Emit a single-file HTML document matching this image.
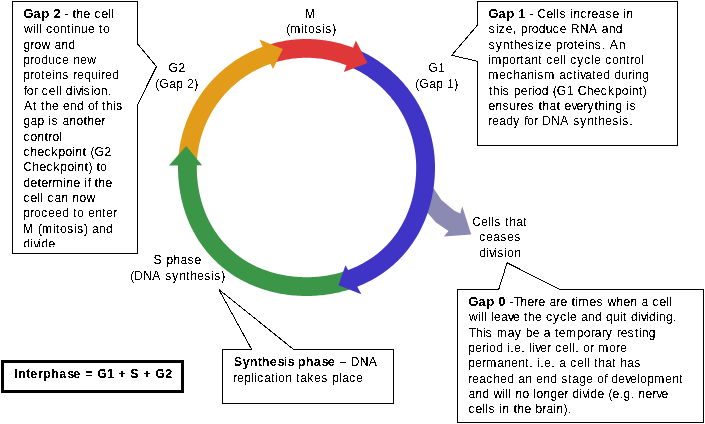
<!DOCTYPE html>
<html>
<head>
<meta charset="utf-8">
<title>Cell cycle</title>
<style>
html,body{margin:0;padding:0;background:#fff;}
body{width:705px;height:424px;overflow:hidden;}
svg{display:block;}
text{font-family:"Liberation Sans",sans-serif;font-size:13.0px;fill:#000;white-space:pre;font-kerning:none;}
.b{font-weight:bold;font-size:13.5px;}
</style>
</head>
<body>
<svg width="705" height="424" viewBox="0 0 705 424">
<defs>
<filter id="binb" x="0" y="0" width="705" height="424" filterUnits="userSpaceOnUse" color-interpolation-filters="sRGB"><feComponentTransfer><feFuncA type="discrete" tableValues="0 0 0 0 0 0 0 0 0 1 1 1 1 1 1 1 1 1 1 1"/></feComponentTransfer></filter>
<filter id="bin" x="0" y="0" width="705" height="424" filterUnits="userSpaceOnUse" color-interpolation-filters="sRGB"><feComponentTransfer><feFuncA type="discrete" tableValues="0 0 0 0 0 0 0 0 0 1 1 1 1 1 1 1 1 1 1 1"/></feComponentTransfer></filter>
<clipPath id="g2clip"><rect x="13.978" y="2" width="133.333" height="245"/></clipPath>
</defs>

<polygon fill="#8a8ab2" points="428,182 434.2,189.2 441.2,199.8 454,210.4 460.3,213.5 462.2,206.2 471.2,234.5 443.8,236.6 448.5,231 436,222.5 428.5,214 420,205"/>
<g fill="none" stroke-width="18.8" stroke-linecap="butt">
<path stroke="#3f34c6" d="M353.04,57.87 L354.94,58.69 L356.82,59.55 L358.69,60.44 L360.54,61.37 L362.38,62.32 L364.20,63.31 L366.00,64.33 L367.79,65.38 L369.56,66.46 L371.30,67.57 L373.03,68.71 L374.74,69.89 L376.42,71.09 L378.09,72.32 L379.73,73.58 L381.36,74.87 L382.96,76.18 L384.53,77.52 L386.09,78.89 L387.61,80.29 L389.12,81.72 L390.60,83.16 L392.05,84.64 L393.48,86.14 L394.88,87.66 L396.26,89.21 L397.60,90.79 L398.92,92.38 L400.22,94.00 L401.48,95.64 L402.71,97.30 L403.92,98.99 L405.10,100.69 L406.24,102.42 L407.36,104.16 L408.45,105.92 L409.50,107.71 L410.53,109.51 L411.52,111.32 L412.48,113.16 L413.41,115.01 L414.31,116.88 L415.17,118.76 L416.00,120.65 L416.80,122.57 L417.56,124.49 L418.29,126.43 L418.99,128.38 L419.65,130.34 L420.28,132.31 L420.88,134.30 L421.44,136.29 L421.96,138.29 L422.45,140.31 L422.91,142.33 L423.33,144.35 L423.71,146.39 L424.06,148.43 L424.38,150.48 L424.66,152.53 L424.90,154.59 L425.10,156.65 L425.28,158.71 L425.41,160.78 L425.51,162.85 L425.57,164.92 L425.60,166.99 L425.59,169.06 L425.55,171.13 L425.48,173.20 L425.38,175.27 L425.25,177.34 L425.08,179.40 L424.89,181.47 L424.66,183.53 L424.40,185.58 L424.11,187.64 L423.79,189.69 L423.43,191.74 L423.04,193.78 L422.62,195.81 L422.17,197.84 L421.68,199.86 L421.16,201.88 L420.61,203.89 L420.02,205.89 L419.40,207.88 L418.75,209.86 L418.06,211.83 L417.33,213.79 L416.57,215.74 L415.78,217.68 L414.95,219.60 L414.09,221.51 L413.20,223.40 L412.26,225.28 L411.30,227.14 L410.30,228.98 L409.26,230.81 L408.19,232.61 L407.08,234.40 L405.95,236.17 L404.77,237.91 L403.57,239.63 L402.33,241.33 L401.05,243.01 L399.75,244.66 L398.41,246.28 L397.04,247.88 L395.64,249.45 L394.21,251.00 L392.74,252.51 L391.25,254.00 L389.73,255.46 L388.18,256.88 L386.61,258.28 L385.00,259.64 L383.37,260.98 L381.72,262.28 L380.04,263.54 L378.34,264.78 L376.61,265.98 L374.86,267.15 L373.09,268.28 L371.30,269.38 L369.49,270.44 L367.66,271.47 L365.82,272.47 L363.95,273.43 L362.07,274.35 L360.18,275.24 L358.27,276.10 L356.34,276.92 L354.40,277.71 L352.45,278.46 L350.49,279.18"/>
<path stroke="#3c9648" d="M349.50,279.53 L347.53,280.19 L345.54,280.82 L343.54,281.42 L341.54,281.98 L339.53,282.51 L337.51,283.01 L335.48,283.48 L333.45,283.91 L331.41,284.31 L329.37,284.67 L327.32,285.01 L325.27,285.31 L323.21,285.58 L321.16,285.81 L319.09,286.02 L317.03,286.20 L314.97,286.34 L312.90,286.45 L310.83,286.53 L308.76,286.58 L306.69,286.60 L304.62,286.59 L302.55,286.54 L300.48,286.47 L298.42,286.36 L296.35,286.22 L294.29,286.06 L292.23,285.86 L290.17,285.62 L288.11,285.36 L286.06,285.06 L284.01,284.74 L281.97,284.38 L279.93,283.98 L277.89,283.56 L275.87,283.10 L273.85,282.61 L271.83,282.09 L269.83,281.53 L267.83,280.94 L265.84,280.31 L263.86,279.65 L261.89,278.96 L259.94,278.23 L257.99,277.47 L256.06,276.67 L254.14,275.84 L252.24,274.97 L250.35,274.07 L248.47,273.14 L246.61,272.17 L244.77,271.16 L242.95,270.12 L241.15,269.05 L239.37,267.94 L237.61,266.79 L235.87,265.62 L234.15,264.41 L232.45,263.16 L230.78,261.89 L229.14,260.58 L227.51,259.24 L225.92,257.87 L224.35,256.46 L222.81,255.03 L221.30,253.56 L219.82,252.07 L218.37,250.55 L216.95,248.99 L215.56,247.42 L214.20,245.81 L212.87,244.18 L211.57,242.52 L210.31,240.84 L209.08,239.14 L207.89,237.41 L206.72,235.66 L205.59,233.89 L204.50,232.10 L203.44,230.29 L202.41,228.46 L201.42,226.61 L200.47,224.75 L199.55,222.86 L198.66,220.97 L197.81,219.06 L196.99,217.13 L196.21,215.19 L195.46,213.24 L194.75,211.28 L194.07,209.31 L193.42,207.33 L192.81,205.34 L192.24,203.34 L191.69,201.33 L191.18,199.31 L190.70,197.29 L190.26,195.26 L189.85,193.22 L189.47,191.18 L189.12,189.13 L188.81,187.08 L188.53,185.03 L188.28,182.97 L188.06,180.91 L187.87,178.85 L187.71,176.78 L187.59,174.72 L187.50,172.65 L187.43,170.58 L187.40,168.51 L187.40,166.44 L187.44,164.37 L187.51,162.30"/>
<path stroke="#e29c1a" d="M187.56,161.27 L187.69,159.20 L187.85,157.13 L188.05,155.06 L188.29,153.00 L188.56,150.94 L188.86,148.89 L189.21,146.84 L189.58,144.80 L190.00,142.76 L190.45,140.74 L190.93,138.72 L191.45,136.71 L192.00,134.71 L192.59,132.72 L193.22,130.74 L193.87,128.77 L194.57,126.81 L195.29,124.87 L196.05,122.94 L196.84,121.02 L197.67,119.12 L198.53,117.23 L199.42,115.35 L200.35,113.49 L201.31,111.65 L202.29,109.83 L203.32,108.02 L204.37,106.23 L205.45,104.46 L206.57,102.71 L207.71,100.98 L208.88,99.27 L210.09,97.58 L211.32,95.91 L212.58,94.26 L213.87,92.63 L215.19,91.03 L216.54,89.45 L217.91,87.89 L219.31,86.36 L220.74,84.86 L222.19,83.37 L223.67,81.92 L225.18,80.49 L226.71,79.08 L228.26,77.71 L229.84,76.36 L231.44,75.03 L233.06,73.74 L234.70,72.47 L236.37,71.24 L238.06,70.03 L239.77,68.85 L241.50,67.70 L243.25,66.59 L245.01,65.50 L246.80,64.44 L248.61,63.42 L250.43,62.42 L252.27,61.46 L254.12,60.53 L256.00,59.64 L257.88,58.77 L259.79,57.94 L261.70,57.15 L263.63,56.38 L265.58,55.65 L267.53,54.96 L269.50,54.29"/>
<path stroke="#e03838" d="M269.70,54.23 L271.67,53.61 L273.65,53.02 L275.65,52.47 L277.65,51.95 L279.66,51.46 L281.68,51.02 L283.70,50.60 L285.74,50.22 L287.78,49.88 L289.82,49.57 L291.87,49.30 L293.93,49.07 L295.99,48.86 L298.05,48.70 L300.11,48.57 L302.18,48.48 L304.25,48.42 L306.32,48.40 L308.39,48.41 L310.45,48.47 L312.52,48.55 L314.59,48.67 L316.65,48.83 L318.71,49.03 L320.76,49.26 L322.81,49.52 L324.86,49.82 L326.90,50.16 L328.94,50.53 L330.96,50.94 L332.99,51.38 L335.00,51.86 L337.00,52.37 L339.00,52.92 L340.98,53.50 L342.96,54.12 L344.92,54.77 L346.87,55.45 L348.81,56.17 L350.74,56.92 L352.65,57.71"/>
</g>
<polygon fill="#3c9648" points="186.2,145.9 169,165.5 202.1,165.2"/>
<polygon fill="#e29c1a" points="259.4,39.4 282.8,48.9 273,68.9"/>
<polygon fill="#e03838" points="355.8,40.6 367.5,63 343.9,71.9"/>
<polygon fill="#3f34c6" points="345.5,265.2 338.4,285.2 361.4,294.3"/>
<g fill="#fff" stroke="#000" stroke-width="1" shape-rendering="crispEdges">
<polygon points="12.5,1.5 137.5,1.5 137.5,43.8 156.5,66.5 137.5,104.8 137.5,253.5 12.5,253.5"/>
<polygon points="477.5,1.5 677.5,1.5 677.5,145.5 477.5,145.5 477.5,61.3 451.7,55.3 477.5,25.1"/>
<polygon points="457.5,289.5 498.7,289.5 507.1,262.8 560,289.5 703.5,289.5 703.5,422.5 457.5,422.5"/>
<polygon points="222.5,349.5 251.7,349.5 218.9,289.5 293.7,349.5 393.5,349.5 393.5,403.5 222.5,403.5"/>
</g>
<rect x="2.5" y="361.5" width="180" height="30" fill="#fff" stroke="#000" stroke-width="3"/>

<g id="txt" filter="url(#bin)"><g transform="scale(0.93,1)">
<g clip-path="url(#g2clip)">
<text x="65.06 69.36 73.66 77.96 82.26 89.79 97.32 101.62 109.14 116.67 119.9" y="18"> - the cell</text>
<text x="25.83 35.5 38.73 41.95 45.18 49.48 57.01 64.54 72.06 76.36 79.59 87.12 94.64 102.17 106.47 110.77" y="33">will continue to</text>
<text x="25.26 32.79 37.09 44.62 54.29 58.59 66.12 73.65" y="49">grow and</text>
<text x="24.97 32.5 36.8 44.32 51.85 59.38 66.9 74.43 78.73 86.26 93.79" y="64">produce new</text>
<text x="24.97 32.5 36.8 44.32 48.62 56.15 59.38 66.9 74.43 78.73 83.03 90.56 98.09 105.61 108.84 113.14 120.67" y="79">proteins required</text>
<text x="25.62 28.85 36.38 40.68 44.98 52.5 60.03 63.26 66.48 70.78 78.31 81.54 86.91 90.14 97.67 100.89 108.42 115.94" y="95">for cell division.</text>
<text x="25.78 35.46 39.76 44.06 48.36 55.89 63.42 67.72 75.24 82.77 90.3 94.6 102.13 105.35 109.65 113.95 121.48 124.71" y="110">At the end of this</text>
<text x="25.26 32.79 40.31 47.84 52.14 55.37 62.89 67.2 74.72 82.25 89.78 94.08 101.6 109.13" y="125">gap is another</text>
<text x="25.25 32.78 40.31 47.83 52.14 56.44 63.96" y="141">control</text>
<text x="25.25 32.78 40.31 47.83 55.36 62.89 70.42 77.94 81.17 88.7 93 97.3 101.6 112.35" y="156">checkpoint (G2</text>
<text x="25.15 34.82 42.35 49.88 57.4 64.93 72.46 79.99 83.21 90.74 95.04 99.34 103.64 107.94" y="171">Checkpoint) to</text>
<text x="25.26 32.79 40.31 44.62 52.14 56.44 68.27 71.5 79.02 86.55 90.85 94.08 97.3 101.6 105.91 113.43" y="187">determine if the</text>
<text x="25.25 32.78 40.31 43.53 46.76 51.06 58.59 66.11 73.64 77.94 85.47 93" y="202">cell can now</text>
<text x="24.97 32.5 36.8 44.32 51.85 59.38 66.9 74.43 78.73 83.03 90.56 94.86 102.39 109.91 114.22 121.74" y="217">proceed to enter</text>
<text x="24.74 36.57 40.87 45.17 57 60.22 64.52 72.05 79.58 82.8 90.33 94.63 98.93 106.46 113.99" y="233">M (mitosis) and</text>
<text x="25.26 32.79 36.01 41.39 44.62 52.14" y="248">divide</text>
</g>
<text x="565.06 569.36 573.66 577.96 587.64 595.17 598.39 601.62 609.14 613.45 616.67 624.2 631.72 636.03 643.55 651.08 658.61 666.13 670.43 673.66" y="18"> - Cells increase in</text>
<text x="525.44 532.97 536.2 543.72 551.25 555.55 559.85 567.38 571.68 579.21 586.73 594.26 601.79 609.32 613.62 623.29 632.97 642.65 646.95 654.48 662" y="33">size, produce RNA and</text>
<text x="525.44 532.97 540.5 548.03 552.33 559.85 567.38 574.91 578.13 585.66 593.19 597.49 605.01 609.32 616.84 621.14 628.67 631.9 639.42 646.95 651.25 655.55 665.23" y="49">synthesize proteins. An</text>
<text x="524.94 528.16 539.99 547.52 555.04 559.35 563.65 571.17 578.7 583 587.3 594.83 602.36 605.58 608.81 613.11 620.64 628.16 635.69 638.92 646.44 650.74 658.27 665.8 673.32 677.62 681.93 689.45" y="64">important cell cycle control</text>
<text x="524.94 536.77 544.3 551.82 559.35 566.88 574.41 577.63 585.16 596.99 601.29 608.81 616.34 620.64 623.87 629.24 636.77 641.07 648.6 656.13 660.43 667.95 675.48 679.78 683.01 690.53" y="79">mechanism activated during</text>
<text x="525.61 529.91 537.44 540.66 548.19 552.49 560.02 567.55 571.85 575.07 582.6 590.13 594.43 598.73 609.48 617.01 621.31 630.99 638.51 646.04 653.57 661.09 668.62 676.15 679.37 686.9 691.2" y="95">this period (G1 Checkpoint)</text>
<text x="525.25 532.78 540.31 547.83 555.36 559.66 567.19 574.72 579.02 583.32 590.85 598.37 602.67 606.97 614.5 619.88 627.4 631.71 639.23 643.53 651.06 654.29 661.81 669.34 673.64 676.87" y="110">ensures that everything is</text>
<text x="524.94 529.24 536.77 544.3 551.82 559.35 563.65 566.88 574.41 578.71 583.01 592.69 602.36 612.04 616.34 623.87 631.39 638.92 643.22 650.75 658.28 665.8 669.03 676.56" y="125">ready for DNA synthesis.</text>
<text x="543.55 547.85 552.15 559.68 567.21 574.74 579.04 586.56 590.86 598.39 602.69 610.22 614.52 618.82 622.05 633.88 641.4 648.93 653.23 662.91 670.43 677.96 685.49 689.79 697.32 701.62 709.14 716.67 719.9" y="306"> -There are times when a cell</text>
<text x="504.32 514 517.22 520.45 523.67 527.98 531.2 538.73 546.26 551.63 559.16 563.46 567.76 575.29 582.81 587.12 594.64 602.17 609.7 612.92 620.45 624.75 632.28 639.8 647.33 651.63 659.16 666.69 669.91 674.21 678.51 686.04 689.27 694.64 697.87 705.4 708.62 716.15 723.67" y="321">will leave the cycle and quit dividing.</text>
<text x="504.01 511.54 519.06 522.29 529.82 534.12 545.94 553.47 561 565.3 572.83 580.35 584.65 592.18 596.48 600.78 608.31 620.14 627.66 635.19 639.49 647.02 651.32 658.85 663.15 667.45 674.98 682.5 686.8 690.03 697.56" y="337">This may be a temporary resting</text>
<text x="503.46 510.99 518.52 522.82 526.04 533.57 541.1 545.4 548.62 552.93 560.45 564.75 569.05 572.28 575.51 580.88 588.41 592.71 597.01 604.54 612.07 615.29 618.52 622.82 627.12 634.65 638.95 643.25 655.08 662.6 666.9" y="352">period i.e. liver cell, or more</text>
<text x="503.46 510.99 518.52 522.82 534.65 542.17 549.7 557.23 564.75 569.05 573.36 577.66 580.88 585.18 592.71 597.01 601.31 608.84 613.14 620.67 628.19 631.42 634.65 638.95 643.25 650.78 658.3 662.6 666.9 674.43 681.96" y="367">permanent, i.e. a cell that has</text>
<text x="503.44 507.74 515.27 522.79 530.32 537.85 545.37 552.9 557.2 564.73 572.25 576.56 584.08 591.61 599.14 603.44 610.96 615.27 622.79 630.32 637.85 642.15 649.67 652.9 657.2 664.73 672.25 677.63 685.16 688.38 695.91 703.44 715.27 722.79 730.32" y="383">reached an end stage of development</text>
<text x="503.75 511.28 518.8 526.33 530.63 540.31 543.53 546.76 549.99 554.29 561.81 569.34 573.64 576.87 584.39 591.92 599.45 606.97 611.28 615.58 623.1 626.33 631.71 634.93 642.46 649.99 654.29 658.59 666.11 670.42 677.94 682.24 686.54 694.07 701.6 705.9 711.28" y="398">and will no longer divide (e.g. nerve</text>
<text x="503.75 511.28 518.8 522.03 525.25 532.78 537.08 540.31 547.83 552.14 556.44 563.96 571.49 575.79 583.32 587.62 595.15 598.37 605.9 610.2" y="413">cells in the brain).</text>
<text x="360.92 365.22 372.74 377.04 386.72 396.4" y="366"> – DNA</text>
<text x="250.75 255.05 262.58 270.1 273.33 276.56 284.08 291.61 295.91 299.14 306.66 314.19 318.49 322.79 330.32 337.85 345.37 352.9 357.2 364.73 367.95 375.48 383.01" y="382">replication takes place</text>

<text x="327.97" y="18">M</text>
<text x="307.8 312.1 323.93 327.15 331.45 338.98 346.51 349.73 357.26" y="33">(mitosis)</text>
<text x="181.07 191.82" y="72">G2</text>
<text x="166.94 171.24 181.99 189.52 197.04 201.34 208.87" y="88">(Gap 2)</text>
<text x="460.42 471.17" y="72">G1</text>
<text x="446.51 450.81 461.56 469.09 476.61 480.91 488.44" y="88">(Gap 1)</text>
<text x="507.73 517.4 524.93 528.16 531.38 538.91 543.21 547.51 555.04 562.57" y="226">Cells that</text>
<text x="515.36 522.89 530.42 537.94 545.47 553" y="241">ceases</text>
<text x="515.37 522.89 526.12 531.5 534.72 542.25 545.48 553" y="257">division</text>
<text x="165 174.68 178.98 186.51 194.03 201.56 209.09" y="264">S phase</text>
<text x="140.05 144.36 154.03 163.71 173.39 177.69 185.22 192.74 200.27 204.57 212.1 219.62 227.15 230.38 237.9" y="280">(DNA synthesis)</text>
</g></g>
<g filter="url(#binb)"><g transform="scale(0.93,1)">
<text class="b" x="25.27 36.03 44.63 53.23 57.53" y="18">Gap 2</text>
<text class="b" x="525.27 536.03 544.63 553.23 557.53" y="18">Gap 1</text>
<text class="b" x="503.77 514.52 523.12 531.72 536.03" y="306">Gap 0</text>
<text class="b" x="251.24 260.92 268.44 277.04 281.35 289.95 298.55 305 309.3 315.75 320.06 328.66 337.26 345.86 352.31" y="366">Synthesis phase</text>
<text class="b" x="15.26 19.56 28.16 32.46 41.07 46.44 55.04 63.65 72.25 78.7 87.3 91.6 100.21 104.51 115.26 122.79 127.09 135.69 139.99 149.67 153.97 162.57 166.87 177.62" y="378">Interphase = G1 + S + G2</text>
</g></g>
</svg>
</body>
</html>
